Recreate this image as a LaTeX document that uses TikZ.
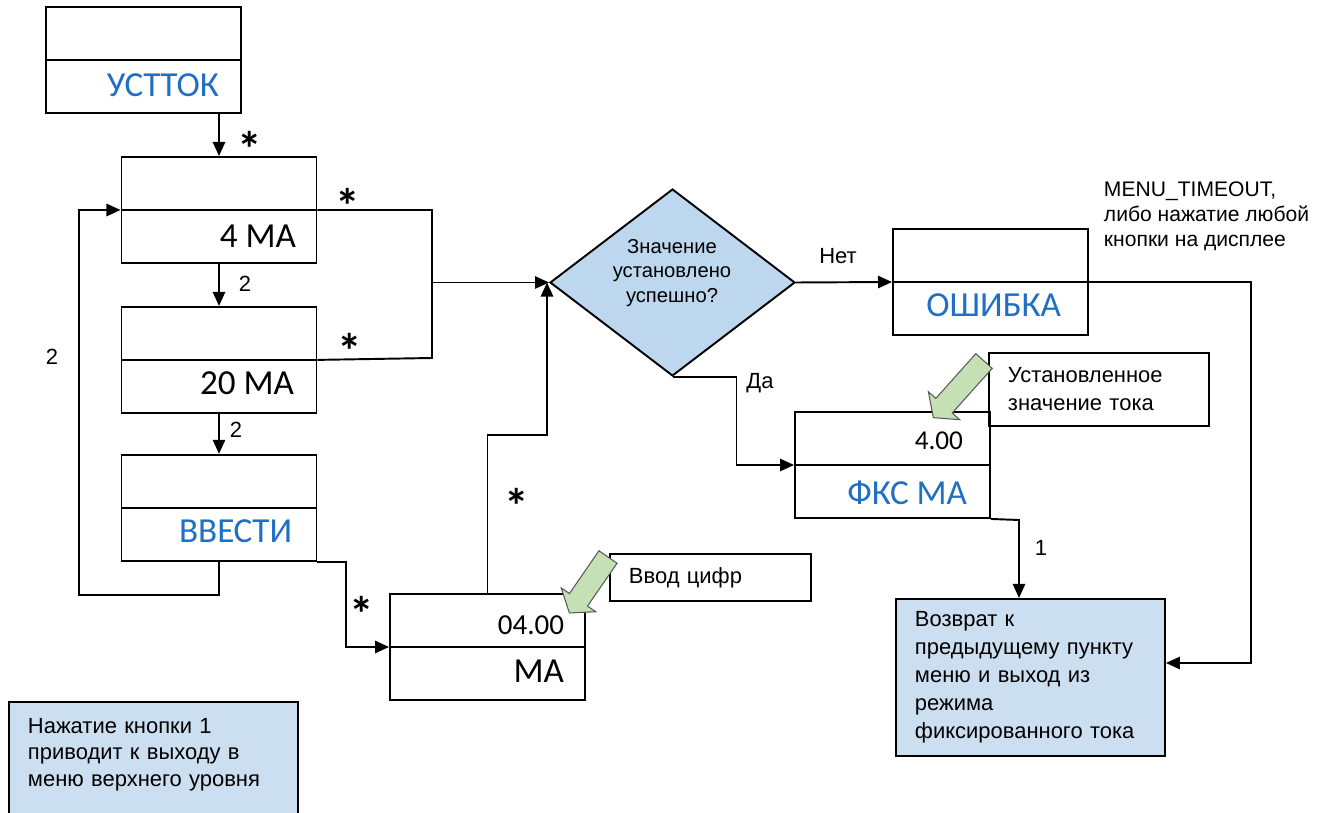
\documentclass[tikz,border=0pt]{standalone}
\usepackage{fontspec}
\setmainfont{Liberation Sans}
\newfontfamily\calib{Carlito}
\usetikzlibrary{arrows.meta,positioning,shapes.geometric}
\definecolor{menublue}{HTML}{1F6FC5}
\definecolor{decfill}{HTML}{BDD7EE}
\definecolor{notefill}{HTML}{CCDFF0}
\definecolor{hintgreen}{HTML}{C5E0B4}

\begin{document}
\begin{tikzpicture}[
    x=0.02cm, y=-0.02cm,
    line width=1.1pt,
    panel/.style={rectangle, draw, minimum width=3.9cm, minimum height=2.12cm, inner sep=0pt},
    decision/.style={diamond, draw, fill=decfill, minimum width=4.9cm, minimum height=3.74cm, inner sep=0pt},
    hint/.style={rectangle, draw, align=left, inner xsep=0.38cm, font=\fontsize{12.5}{16}\selectfont},
    infobox/.style={hint, fill=notefill},
    bigtxt/.style={font=\calib\fontsize{20}{24}\selectfont, inner sep=0pt, anchor=base east},
    bluetxt/.style={bigtxt, text=menublue},
    lbl/.style={font=\fontsize{12.5}{15}\selectfont, inner sep=0pt},
    star/.style={font=\calib\bfseries\fontsize{28}{28}\selectfont, inner sep=0pt, yshift=-6pt},
    arrow/.style={-{Triangle[length=8pt,width=7pt]}},
    greenarrow/.style={draw=black!65, line width=0.6pt, fill=hintgreen}
]
\clip (0,0) rectangle (1317,813);

% menu panels
\node[panel] (usttok) at (143.5,60) {};
\node[panel] (ma4) at (219,210) {};
\node[panel, below=0.84cm of ma4] (ma20) {};
\node[panel, below=0.8cm of ma20] (vvesti) {};
\node[panel] (ma) at (487.5,647) {};
\node[panel] (oshibka) at (990.5,282) {};
\node[panel] (fksma) at (892.5,465) {};
\foreach \b in {usttok,ma4,ma20,vvesti,ma,oshibka,fksma}
    \draw (\b.west) -- (\b.east);

\node[bluetxt] (t-usttok) at (220,97) {УСТТОК};
\node[bigtxt] (t-ma4) at (297,248) {4 МА};
\node[bigtxt] (t-ma20) at (295,395) {20 МА};
\node[bluetxt] (t-vvesti) at (293,542) {ВВЕСТИ};
\node[bigtxt, font=\calib\fontsize{16.5}{20}\selectfont] (t-val) at (565,634) {04.00};
\node[bigtxt] (t-ma) at (565,682) {МА};
\node[bigtxt, font=\calib\fontsize{15.5}{19}\selectfont] (t-fix) at (964,450) {4.00};
\node[bluetxt] (t-fksma) at (968,504) {ФКС МА};
\node[bluetxt] (t-oshibka) at (1062,317) {ОШИБКА};

% decision
\node[decision] (dia) at (672.5,282.5) {};
\node[font=\fontsize{11.5}{14}\selectfont, align=center, inner sep=0pt] (diatxt) at (672,273) {Значение\\установлено\\успешно?};

% text boxes
\node[hint, anchor=north west, text width=3.26cm, minimum height=0.94cm] (vvod) at (609,553) {Ввод цифр};
\node[hint, anchor=north west, text width=3.64cm, minimum height=1.46cm] (ust) at (988,352) {Установленное\\значение тока};
\node[infobox, anchor=north west, text width=4.62cm, minimum height=3.14cm] (vozvrat) at (895,598)
    {Возврат к\\предыдущему пункту\\меню и выход из\\режима\\фиксированного тока};
\node[infobox, anchor=north west, text width=5.02cm, inner ysep=0.32cm, font=\fontsize{12.5}{15.3}\selectfont] (note) at (8,701)
    {Нажатие кнопки 1\\приводит к выходу в\\меню верхнего уровня\\[20pt]\mbox{}};
\node[anchor=north west, align=left, inner sep=0pt, font=\fontsize{12}{14.2}\selectfont] (timeout) at (1103,181)
    {MENU\_TIMEOUT,\\либо нажатие любой\\кнопки на дисплее};

% connectors
\coordinate (loop) at (79,595);
\coordinate (jtop) at (432,210);
\coordinate (jmid) at (432,282.5);
\coordinate (jbot) at (432,358);
\coordinate (mup) at (547,435);
\coordinate (rline) at (1251,663);
\coordinate (k1) at (1019,520);

\draw[arrow] (ma4.north |- usttok.south) -- (ma4.north);
\draw[arrow] (ma4) -- (ma20);
\draw[arrow] (ma20) -- (vvesti);
\draw[arrow] (vvesti.south) |- (loop) |- (ma4.west);
\draw (ma4.east) -- (jtop) -- (jbot) -- (ma20.east);
\draw[arrow] (jmid) -- (dia.west);
\draw[arrow] (vvesti.south east) -- ++(29,0) |- (ma.west);
\draw[arrow] (ma.north) |- (mup) -- (mup |- dia.west);
\draw[arrow] (dia.south) -- ++(64,0) |- (fksma.west);
\draw[arrow] (dia.east) -- (oshibka.west);
\draw[arrow] (oshibka.east) -| (rline) -- (rline -| vozvrat.east);
\draw[arrow] (fksma.south east) -- (k1) -- (k1 |- vozvrat.north);

% connector labels
\node[star] (s1) at (250,138) {*};
\node[star] (s2) at (348,195) {*};
\node[star] (s3) at (350,340) {*};
\node[star] (s4) at (362,603) {*};
\node[star] (s5) at (517,495) {*};
\node[lbl] (l1) at (245,284) {2};
\node[lbl] (l2) at (236,430) {2};
\node[lbl] (l3) at (52,357) {2};
\node[lbl] (l4) at (1041,548) {1};
\node[lbl] (l5) at (838,256) {Нет};
\node[lbl] (l6) at (760,383) {Да};

% green pointers
\begin{scope}[shift={(608,557)}, rotate=235.4]
  \draw[greenarrow] (0,-11) -- (52,-11) -- (52,-21) -- (68,0) -- (52,21) -- (52,11) -- (0,11) -- cycle;
\end{scope}
\begin{scope}[shift={(984,361)}, rotate=228.2]
  \draw[greenarrow] (0,-11) -- (60,-11) -- (60,-21) -- (76,0) -- (60,21) -- (60,11) -- (0,11) -- cycle;
\end{scope}
\end{tikzpicture}
\end{document}
